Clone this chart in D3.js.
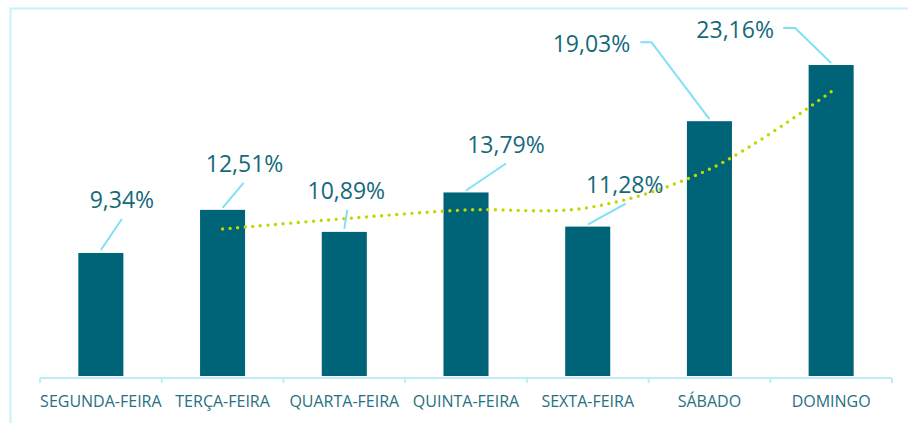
<!DOCTYPE html>
<html>
<head>
<meta charset="utf-8">
<script src="https://cdn.jsdelivr.net/npm/d3@7"></script>
<style>
  html, body { margin: 0; padding: 0; background: #ffffff; }
  svg { display: block; }
</style>
</head>
<body>
<svg id="chart" width="908" height="423"></svg>
<script>
// ---- data ----
const categories = ["SEGUNDA-FEIRA", "TERÇA-FEIRA", "QUARTA-FEIRA", "QUINTA-FEIRA", "SEXTA-FEIRA", "SÁBADO", "DOMINGO"];
const values = [9.34, 12.51, 10.89, 13.79, 11.28, 19.03, 23.16];
const valueLabels = ["9,34%", "12,51%", "10,89%", "13,79%", "11,28%", "19,03%", "23,16%"];
// trend line (2-period moving average as drawn), starting at the 2nd category
const trendCategories = ["TERÇA-FEIRA", "QUARTA-FEIRA", "QUINTA-FEIRA", "SEXTA-FEIRA", "SÁBADO", "DOMINGO"];
const trendValues = [11.1, 11.86, 12.5, 12.67, 15.5, 21.2];

// ---- layout (label placement relative to bar top centre) ----
const labelOffsets = [[21, -45], [22, -38], [2, -33], [40, -39], [37, -34], [-118, -69], [-96, -27]];
const leaderPaths = [
  [[0, -3], [21, -34]],
  [[0, -2], [21, -27]],
  [[0, -3], [3, -22]],
  [[0, -2], [40, -29]],
  [[0, -2], [38, -23]],
  [[0, -2], [-58, -79], [-69, -79]],
  [[0, -2], [-36, -37], [-48, -37]]
];

const svg = d3.select("#chart");
const colors = {
  bar: "#006478",
  label: "#15697b",
  cat: "#26707f",
  leader: "#7fe1f6",
  axis: "#bfedf7",
  border: "#c6f2fa",
  trend: "#c4d600"
};

// outer border
svg.append("path")
  .attr("d", "M10.5,430 V8.5 H920")
  .attr("fill", "none")
  .attr("stroke", colors.border)
  .attr("stroke-width", 2);

const x = d3.scaleBand().domain(categories).range([40, 892]).padding(0);
const y = d3.scaleLinear().domain([0, 25]).range([380, 40]);
const barW = x.bandwidth() * 0.37;
const cx = c => x(c) + x.bandwidth() / 2;

// bars
svg.append("g").selectAll("rect")
  .data(values)
  .join("rect")
  .attr("x", (d, i) => cx(categories[i]) - barW / 2)
  .attr("y", d => y(d))
  .attr("width", barW)
  .attr("height", d => y(0) - 4 - y(d))
  .attr("fill", colors.bar);

// x axis
const axisY = y(0) - 2;
const axis = d3.axisBottom(x).tickSize(0).tickPadding(18);
const gx = svg.append("g").attr("transform", `translate(0,${axisY})`).call(axis);
gx.select(".domain").remove();
gx.selectAll("text")
  .attr("fill", colors.cat)
  .attr("font-family", "'Open Sans', sans-serif")
  .attr("font-size", 16);
svg.append("line")
  .attr("x1", x.range()[0]).attr("x2", x.range()[1])
  .attr("y1", axisY).attr("y2", axisY)
  .attr("stroke", colors.axis).attr("stroke-width", 2);
const bounds = categories.map(c => x(c)).concat([x.range()[1]]);
svg.append("g").selectAll("line")
  .data(bounds)
  .join("line")
  .attr("x1", d => d).attr("x2", d => d)
  .attr("y1", axisY).attr("y2", axisY + 5)
  .attr("stroke", colors.axis).attr("stroke-width", 2);

// trend line
const line = d3.line()
  .x((d, i) => cx(trendCategories[i]))
  .y(d => y(d))
  .curve(d3.curveCatmullRom.alpha(0.5));
svg.append("path")
  .datum(trendValues)
  .attr("d", line)
  .attr("fill", "none")
  .attr("stroke", colors.trend)
  .attr("stroke-width", 3.4)
  .attr("stroke-linecap", "round")
  .attr("stroke-dasharray", "0 7.6");

// leader lines
svg.append("g").selectAll("path")
  .data(values)
  .join("path")
  .attr("d", (d, i) => {
    const bx = cx(categories[i]), by = y(d);
    return d3.line()(leaderPaths[i].map(p => [bx + p[0], by + p[1]]));
  })
  .attr("fill", "none")
  .attr("stroke", colors.leader)
  .attr("stroke-width", 2);

// data labels
svg.append("g").selectAll("text")
  .data(values)
  .join("text")
  .attr("x", (d, i) => cx(categories[i]) + labelOffsets[i][0])
  .attr("y", (d, i) => y(d) + labelOffsets[i][1])
  .attr("text-anchor", "middle")
  .attr("fill", colors.label)
  .attr("font-family", "'Open Sans', sans-serif")
  .attr("font-size", 23)
  .text((d, i) => valueLabels[i]);
</script>
</body>
</html>
